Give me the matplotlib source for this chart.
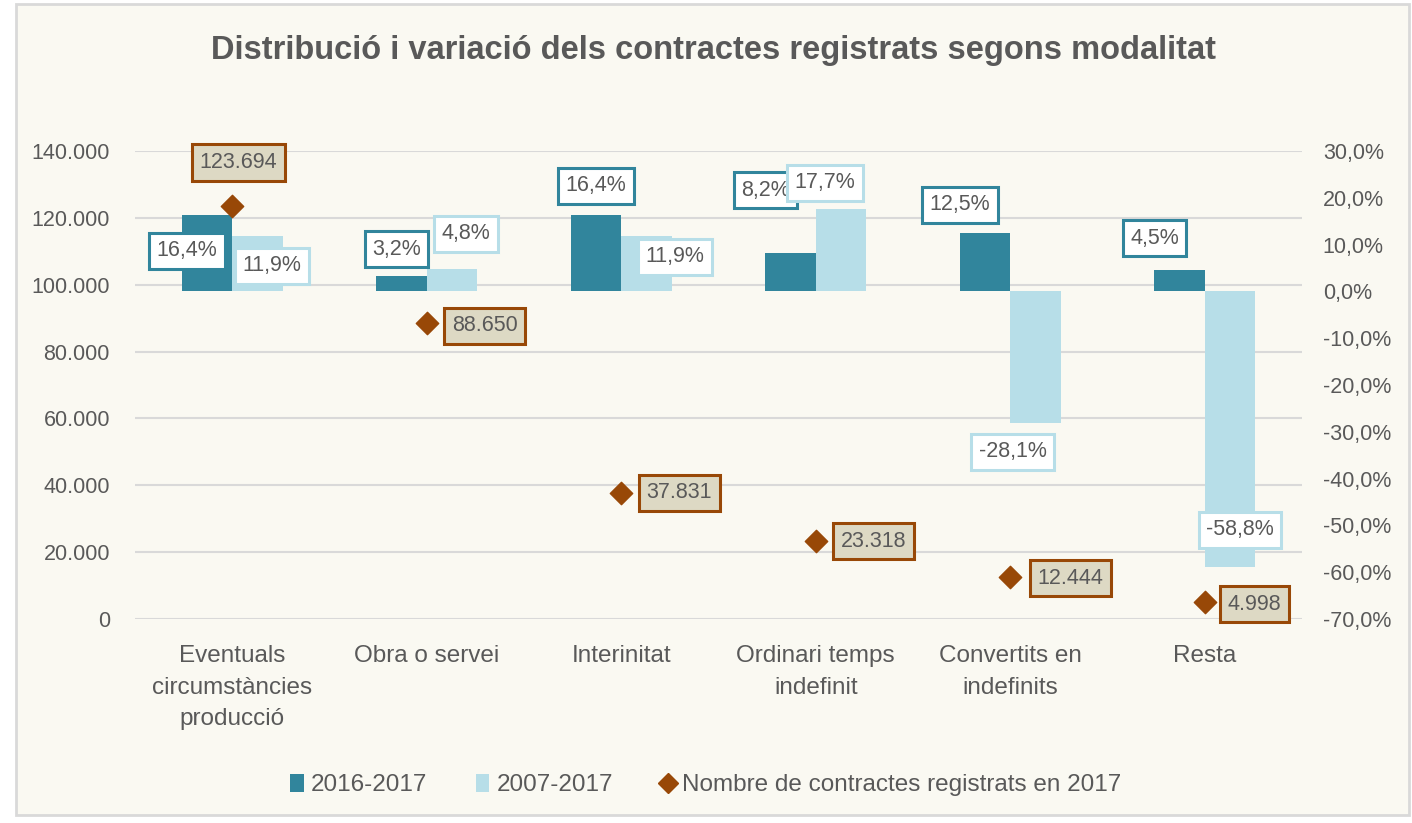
import matplotlib.pyplot as plt
from matplotlib.lines import Line2D
from matplotlib.patches import Patch, Rectangle

categories = ['Eventuals\ncircumstàncies\nproducció', 'Obra o servei', 'Interinitat',
              'Ordinari temps\nindefinit', 'Convertits en\nindefinits', 'Resta']
var_1617 = [16.4, 3.2, 16.4, 8.2, 12.5, 4.5]
var_0717 = [11.9, 4.8, 11.9, 17.7, -28.1, -58.8]
contracts_2017 = [123694, 88650, 37831, 23318, 12444, 4998]

left_ticks = [0, 20000, 40000, 60000, 80000, 100000, 120000, 140000]
right_ticks = [-70, -60, -50, -40, -30, -20, -10, 0, 10, 20, 30]

# label offsets in pixels (style only)
off_1617 = [(-20, -36), (-5, 27), (0, 29), (-25, 63), (-25, 28), (-25, 32)]
off_0717 = [(14, -30), (14, 35), (28, -21), (-16, 26), (-23, -29), (10, 37)]
off_cnt = [(6, 43), (58, -3), (58, 0), (58, 0), (60, -1), (50, -2)]

DARK = '#31859C'
LIGHT = '#B7DEE8'
BROWN = '#984807'
TAN = '#DDD9C4'
BG = '#FAF9F2'
TXT = '#595959'
FS = 15.5
FS_BIG = 17.5

plt.rcParams['font.family'] = ['Liberation Sans', 'DejaVu Sans']

fig = plt.figure(figsize=(14.12, 8.23), dpi=100, facecolor='white')
fig.patches.append(Rectangle((16 / 1412, 8 / 823), 1393 / 1412, 811 / 823, transform=fig.transFigure,
                             facecolor=BG, edgecolor='#D9D9D9', linewidth=2, zorder=-10))

ax = fig.add_axes([135 / 1412, 1 - 619 / 823, 1167 / 1412, 468 / 823])
ax.set_facecolor('none')
ax2 = ax.twinx()
ax2.set_zorder(ax.get_zorder() - 1)
ax.patch.set_visible(False)

x = list(range(len(categories)))
w = 0.26
ax2.bar([i - w / 2 for i in x], var_1617, width=w, color=DARK, zorder=2)
ax2.bar([i + w / 2 for i in x], var_0717, width=w, color=LIGHT, zorder=2)
ax2.set_ylim(-70, 30)
ax2.set_yticks(right_ticks)
ax2.set_yticklabels([f'{t:.1f}%'.replace('.', ',') for t in right_ticks])
ax2.tick_params(axis='y', length=0, pad=15, labelsize=FS, labelcolor=TXT)

ax.set_ylim(0, 140000)
ax.set_xlim(-0.5, 5.5)
ax.set_yticks(left_ticks)
ax.set_yticklabels([f'{t:,}'.replace(',', '.') for t in left_ticks])
ax.tick_params(axis='y', length=0, pad=18, labelsize=FS, labelcolor=TXT)
ax.set_xticks(x)
ax.set_xticklabels(categories, fontsize=FS_BIG, color=TXT, linespacing=1.55)
ax.tick_params(axis='x', length=0, pad=19)
for t in left_ticks:
    ax2.axhline(-70 + t / 140000 * 100, color='#D9D9D9', linewidth=1.5, zorder=0)
ax.scatter(x, contracts_2017, marker='D', s=130, color=BROWN, zorder=5)

for a in (ax, ax2):
    for s in a.spines.values():
        s.set_visible(False)

for i in x:
    ax2.annotate(f'{var_1617[i]:.1f}%'.replace('.', ','), (i - w / 2, var_1617[i]),
                 xytext=off_1617[i], textcoords='offset pixels', ha='center', va='center',
                 fontsize=FS, color=TXT, zorder=6,
                 bbox=dict(boxstyle='square,pad=0.35', facecolor='white', edgecolor=DARK, linewidth=2.2))
    ax2.annotate(f'{var_0717[i]:.1f}%'.replace('.', ','), (i + w / 2, var_0717[i]),
                 xytext=off_0717[i], textcoords='offset pixels', ha='center', va='center',
                 fontsize=FS, color=TXT, zorder=6,
                 bbox=dict(boxstyle='square,pad=0.35', facecolor='white', edgecolor=LIGHT, linewidth=2.2))
    ax.annotate(f'{contracts_2017[i]:,}'.replace(',', '.'), (i, contracts_2017[i]),
                xytext=off_cnt[i], textcoords='offset pixels', ha='center', va='center',
                fontsize=FS, color=TXT, zorder=7,
                bbox=dict(boxstyle='square,pad=0.35', facecolor=TAN, edgecolor=BROWN, linewidth=2.2))

fig.text(0.505, 1 - 50 / 823, 'Distribució i variació dels contractes registrats segons modalitat',
         ha='center', va='center', fontsize=23.5, fontweight='bold', color=TXT)

handles = [Patch(facecolor=DARK), Patch(facecolor=LIGHT),
           Line2D([], [], marker='D', linestyle='none', color=BROWN, markersize=10)]
fig.legend(handles, ['2016-2017', '2007-2017', 'Nombre de contractes registrats en 2017'],
           loc='center', bbox_to_anchor=(0.5, 1 - 785 / 823), ncol=3, frameon=False,
           fontsize=FS_BIG, labelcolor=TXT, handlelength=0.55, handleheight=0.75, handletextpad=0.3,
           columnspacing=2.0)

fig.savefig('out.png', dpi=100, facecolor='white')
